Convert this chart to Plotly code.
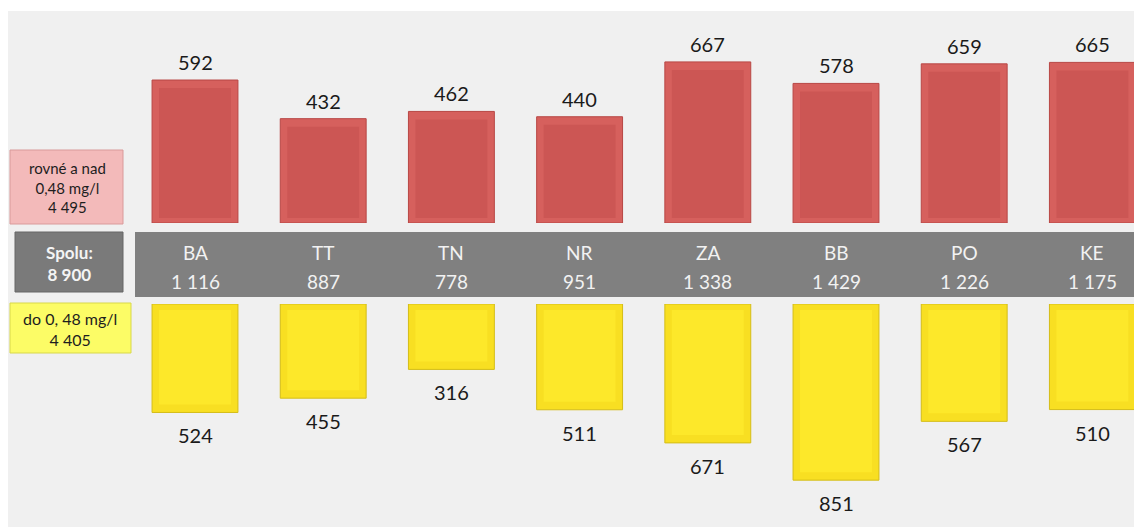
import plotly.graph_objects as go

# ---- data ----
regions = ["BA", "TT", "TN", "NR", "ZA", "BB", "PO", "KE"]
above = [592, 432, 462, 440, 667, 578, 659, 665]   # rovné a nad 0,48 mg/l
below = [524, 455, 316, 511, 671, 851, 567, 510]   # do 0,48 mg/l
label_above = ["rovné a nad", "0,48 mg/l"]
label_below = ["do 0, 48 mg/l"]
label_total = "Spolu:"

W, H = 1134, 527
SCALE_TOP = 0.2415   # px per unit (upper panel)
SCALE_BOT = 0.207    # px per unit (lower panel)
SPACING = 128.2      # px per category
BAR_W = 0.67


def fmt(n):
    return f"{n:,}".replace(",", " ")


def py(p):  # pixel y -> paper y
    return 1 - p / H


def px(p):
    return p / W


totals = [a + b for a, b in zip(above, below)]
sum_above = sum(above)
sum_below = sum(below)
sum_all = sum(totals)

FONT = "Lato, Carlito, 'Liberation Sans', sans-serif"

# bevel insets (px) converted to data units
bev_side = 7 / SPACING
top_in_top, top_in_bot = 8 / SCALE_TOP, 5 / SCALE_TOP
bot_in_top, bot_in_bot = 6 / SCALE_BOT, 8 / SCALE_BOT

fig = go.Figure()
# upper (red) bars: outer bevel + inner face
fig.add_trace(go.Bar(
    x=regions, y=above, xaxis="x", yaxis="y",
    marker=dict(color="#d6605d", line=dict(color="#b84745", width=1)),
    width=BAR_W, hoverinfo="skip",
))
fig.add_trace(go.Bar(
    x=regions, y=[v - top_in_top - top_in_bot for v in above], base=top_in_bot,
    xaxis="x", yaxis="y",
    marker=dict(color="#cc5654", line=dict(width=0)),
    width=BAR_W - 2 * bev_side, hoverinfo="skip",
))
# lower (yellow) bars: outer bevel + inner face
fig.add_trace(go.Bar(
    x=regions, y=below, xaxis="x", yaxis="y2",
    marker=dict(color="#f8df22", line=dict(color="#d4bd18", width=1)),
    width=BAR_W, hoverinfo="skip",
))
fig.add_trace(go.Bar(
    x=regions, y=[v - bot_in_top - bot_in_bot for v in below], base=bot_in_top,
    xaxis="x", yaxis="y2",
    marker=dict(color="#fde82a", line=dict(width=0)),
    width=BAR_W - 2 * bev_side, hoverinfo="skip",
))

annotations = []
for r, a, b, t in zip(regions, above, below, totals):
    annotations.append(dict(x=r, y=a, xref="x", yref="y", text=str(a), showarrow=False,
                            yanchor="middle", xanchor="center", yshift=18,
                            font=dict(family=FONT, size=20, color="#1a1a1a")))
    annotations.append(dict(x=r, y=b, xref="x", yref="y2", text=str(b), showarrow=False,
                            yanchor="middle", xanchor="center", yshift=-23,
                            font=dict(family=FONT, size=20, color="#1a1a1a")))
    annotations.append(dict(x=r, y=py(252), xref="x", yref="paper", text=r, showarrow=False,
                            yanchor="middle", xanchor="center",
                            font=dict(family=FONT, size=19, color="#f2f2f2")))
    annotations.append(dict(x=r, y=py(281), xref="x", yref="paper", text=fmt(t), showarrow=False,
                            yanchor="middle", xanchor="center",
                            font=dict(family=FONT, size=19, color="#f2f2f2")))

# left legend boxes
annotations.append(dict(x=px(67), y=py(187), xref="paper", yref="paper", showarrow=False,
                        text="<br>".join(label_above + [fmt(sum_above)]),
                        font=dict(family=FONT, size=15, color="#1e1e1e"), align="center",
                        yanchor="middle", xanchor="center"))
annotations.append(dict(x=px(69), y=py(263), xref="paper", yref="paper", showarrow=False,
                        text=f"<b>{label_total}<br>{fmt(sum_all)}</b>",
                        font=dict(family=FONT, size=17, color="#f4f4f4"), align="center",
                        yanchor="middle", xanchor="center"))
annotations.append(dict(x=px(70), y=py(329), xref="paper", yref="paper", showarrow=False,
                        text="<br>".join(label_below + [fmt(sum_below)]),
                        font=dict(family=FONT, size=16, color="#1e1e1e"), align="center",
                        yanchor="middle", xanchor="center"))

shapes = [
    # light panel
    dict(type="rect", xref="paper", yref="paper", x0=px(8), x1=1, y0=0, y1=py(11),
         fillcolor="#f0f0f0", line=dict(width=0), layer="below"),
    # gray band
    dict(type="rect", xref="paper", yref="paper", x0=px(135), x1=1, y0=py(297), y1=py(232),
         fillcolor="#808080", line=dict(width=0), layer="below"),
    # pink box
    dict(type="rect", xref="paper", yref="paper", x0=px(10), x1=px(123), y0=py(224), y1=py(150),
         fillcolor="#f3baba", line=dict(color="#d99a9a", width=1), layer="below"),
    # gray box
    dict(type="rect", xref="paper", yref="paper", x0=px(15), x1=px(123), y0=py(292), y1=py(232),
         fillcolor="#7a7a7a", line=dict(color="#666666", width=1), layer="below"),
    # yellow box
    dict(type="rect", xref="paper", yref="paper", x0=px(10), x1=px(131), y0=py(353), y1=py(303),
         fillcolor="#fcfc66", line=dict(color="#d8d84a", width=1), layer="below"),
]

r0 = -195 / SPACING
r1 = r0 + W / SPACING

fig.update_layout(
    width=W, height=H,
    margin=dict(l=0, r=0, t=0, b=0),
    paper_bgcolor="white", plot_bgcolor="rgba(0,0,0,0)",
    showlegend=False, barmode="overlay",
    xaxis=dict(range=[r0, r1], showticklabels=False, showgrid=False, zeroline=False,
               showline=False, ticks="", fixedrange=True),
    yaxis=dict(domain=[py(223), 1], range=[0, 223 / SCALE_TOP], visible=False),
    yaxis2=dict(domain=[0, py(304)], range=[223 / SCALE_BOT, 0], visible=False),
    annotations=annotations,
    shapes=shapes,
)

fig.write_html("out.html", config={"displayModeBar": False})

# remove default page margin so the figure fills the window exactly
with open("out.html", encoding="utf-8") as f:
    html = f.read()
html = html.replace("<head>", "<head><style>html,body{margin:0;padding:0;overflow:hidden;}</style>", 1)
with open("out.html", "w", encoding="utf-8") as f:
    f.write(html)
